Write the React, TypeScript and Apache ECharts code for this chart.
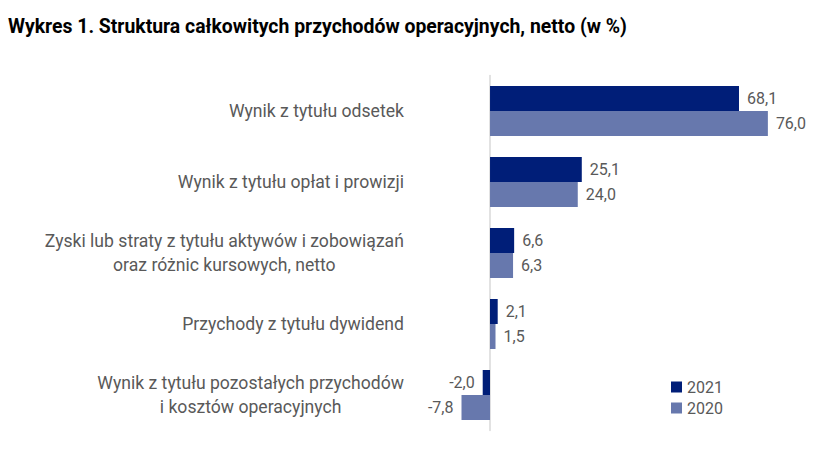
import React, { useEffect, useRef } from "react";
import * as echarts from "echarts";

const title = "Wykres 1. Struktura całkowitych przychodów operacyjnych, netto (w %)";
const categories = [
  "Wynik z tytułu odsetek",
  "Wynik z tytułu opłat i prowizji",
  "Zyski lub straty z tytułu aktywów i zobowiązań\noraz różnic kursowych, netto",
  "Przychody z tytułu dywidend",
  "Wynik z tytułu pozostałych przychodów\ni kosztów operacyjnych",
];
const values2021 = [68.1, 25.1, 6.6, 2.1, -2.0];
const values2020 = [76.0, 24.0, 6.3, 1.5, -7.8];
const seriesNames = ["2021", "2020"];

const FONT = "Roboto";
const GRAY = "#595959";
const C2021 = "#001e78";
const C2020 = "#6778ad";

export default function App() {
  const ref = useRef<HTMLDivElement>(null);
  useEffect(() => {
    if (!ref.current) return;
    const chart = echarts.init(ref.current, null, { renderer: "svg" });
    const fmt = (p: any) => Number(p.value).toFixed(1).replace(".", ",");
    const labelCfg = {
      show: true,
      position: "right",
      distance: 8,
      formatter: fmt,
      fontFamily: FONT,
      fontSize: 16,
      color: GRAY,
    };
    const toData = (arr: number[]) =>
      arr.map((v) => (v < 0 ? { value: v, label: { position: "left" } } : v));
    chart.setOption({
      animation: false,
      backgroundColor: "#ffffff",
      title: {
        text: title,
        left: 3,
        top: 12,
        textStyle: { fontFamily: FONT, fontWeight: 700, fontSize: 19.4, color: "#000" },
      },
      legend: {
        orient: "vertical",
        left: 666,
        top: 374,
        itemWidth: 11,
        itemHeight: 11,
        itemGap: 5,
        icon: "rect",
        data: seriesNames,
        textStyle: { fontFamily: FONT, fontSize: 16, color: GRAY },
      },
      grid: { left: 416.9, width: 365.6, top: 75.5, height: 355 },
      xAxis: {
        type: "value",
        min: -20,
        max: 80,
        show: false,
      },
      yAxis: {
        type: "category",
        inverse: true,
        data: categories,
        axisTick: { show: false },
        axisLine: { onZero: true, lineStyle: { color: "#d9d9d9", width: 1.5 } },
        axisLabel: {
          margin: 13,
          formatter: (v: string) =>
            v.split("\n").map((l) => `{c|${l}}`).join("\n"),
          rich: {
            c: {
              align: "center",
              fontFamily: FONT,
              fontSize: 17.6,
              color: GRAY,
              lineHeight: 24,
            },
          },
        },
      },
      series: [
        {
          name: seriesNames[0],
          type: "bar",
          data: toData(values2021),
          barWidth: 25,
          barGap: "0%",
          itemStyle: { color: C2021 },
          label: labelCfg,
        },
        {
          name: seriesNames[1],
          type: "bar",
          data: toData(values2020),
          barWidth: 25,
          barGap: "0%",
          itemStyle: { color: C2020 },
          label: labelCfg,
        },
      ],
    });
    return () => chart.dispose();
  }, []);
  return (
    <div
      ref={ref}
      style={{ position: "absolute", left: 0, top: 0, width: 832, height: 475 }}
    />
  );
}
